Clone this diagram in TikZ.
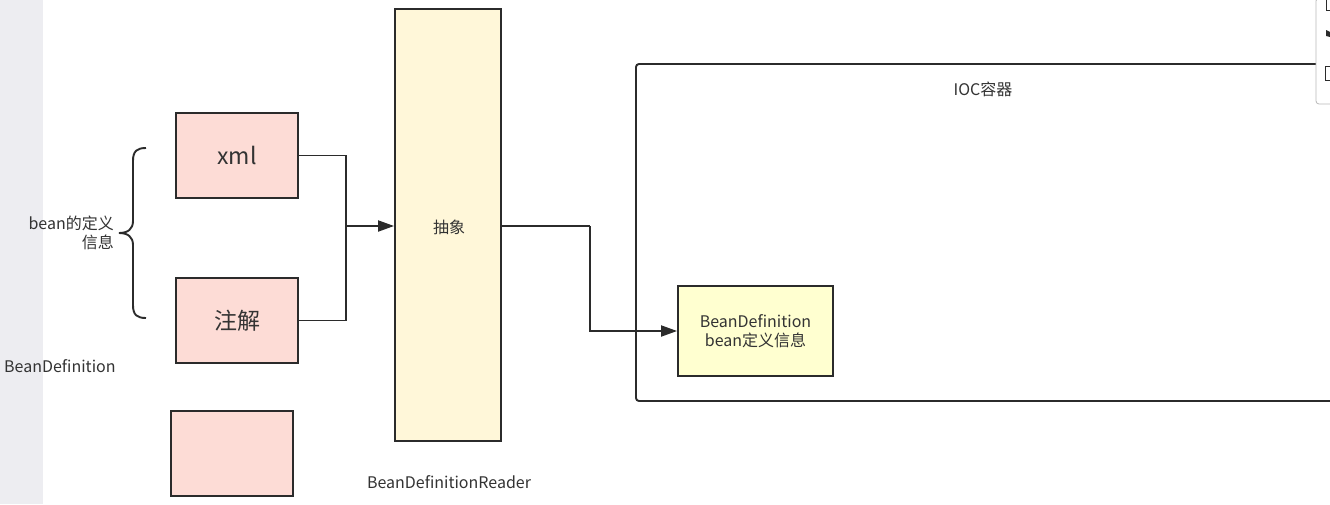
\documentclass[tikz,border=0pt]{standalone}
\usepackage{fontspec}
\setmainfont{Noto Sans CJK SC}
\usetikzlibrary{arrows.meta}
\definecolor{txt}{HTML}{333333}
\definecolor{edge}{HTML}{2B2B2B}
\definecolor{pinkfill}{HTML}{FDDCD6}
\definecolor{creamfill}{HTML}{FFF7D9}
\definecolor{yellowfill}{HTML}{FFFFD0}
\definecolor{band}{HTML}{EDEDF1}
\tikzset{
  box/.style={draw=edge, line width=1.9pt, inner sep=0pt, text=txt},
  pinkbox/.style={box, fill=pinkfill, minimum width=122pt, minimum height=85pt, font=\fontsize{23}{27}\selectfont},
  conn/.style={draw=edge, line width=1.9pt},
  arr/.style={conn, -{Triangle[length=16pt,width=11pt]}},
  lbl/.style={text=txt, font=\fontsize{16}{19}\selectfont, inner sep=0pt},
}
\begin{document}
\begin{tikzpicture}[x=1pt,y=-1pt]
\useasboundingbox (0,0) rectangle (1330,504);
\fill[white] (0,0) rectangle (1330,504);
\fill[band] (0,0) rectangle (43,504);

% IOC container
\draw[conn, rounded corners=3pt] (1318,64) -- (636,64) -- (636,401) -- (1330,401);
\node[lbl] (ioc) at (983,89) {IOC容器};

% left boxes
\node[pinkbox] (xml) at (237,155.5) {xml};
\node[pinkbox] (zj) at (237,320.5) {注解};
\node[pinkbox] (empty) at (232,453.5) {};

% brace and labels
\draw[edge, line width=1.9pt] (146,148) .. controls (137,148) and (133,151) .. (133,161) -- (133,221) .. controls (133,229) and (128,233) .. (119,233) .. controls (128,233) and (133,237) .. (133,245) -- (133,305) .. controls (133,315) and (137,318) .. (146,318);
\node[lbl, align=right, anchor=east] (def) at (114,233) {bean的定义\\信息};
\node[lbl, anchor=west] (bdl) at (4,366) {BeanDefinition};

% reader
\node[box, fill=creamfill, minimum width=106pt, minimum height=432pt] (reader) at (448,225) {};
\node[lbl] (abs) at (449,227) {抽象};
\node[lbl] (rdl) at (449,482) {BeanDefinitionReader};

% BeanDefinition box
\node[box, fill=yellowfill, minimum width=155pt, minimum height=90pt, align=center, font=\fontsize{16}{19}\selectfont] (bd) at (755.5,331) {BeanDefinition\\bean定义信息};

% connectors
\coordinate (j) at (346,226);
\draw[conn] (xml.east) -| (j);
\draw[conn] (zj.east) -| (j);
\draw[arr] (j) -- (reader.west |- j);
\coordinate (k) at (590,226);
\draw[conn] (reader.east |- k) -- (k);
\draw[arr] (k) |- (bd.west);

% right-side panel
\draw[draw=gray!55, fill=white, line width=0.8pt, rounded corners=3pt] (1340,-2) -- (1316,-2) -- (1316,104) -- (1340,104);
\draw[edge, line width=1pt] (1326,0) -- (1326,10) -- (1330,10);
\fill[edge] (1326,30) -- (1330,32) -- (1330,37) -- (1326,36) -- cycle;
\draw[edge, line width=1pt] (1330,66) -- (1325,66) -- (1325,80) -- (1330,80);
\end{tikzpicture}
\end{document}
